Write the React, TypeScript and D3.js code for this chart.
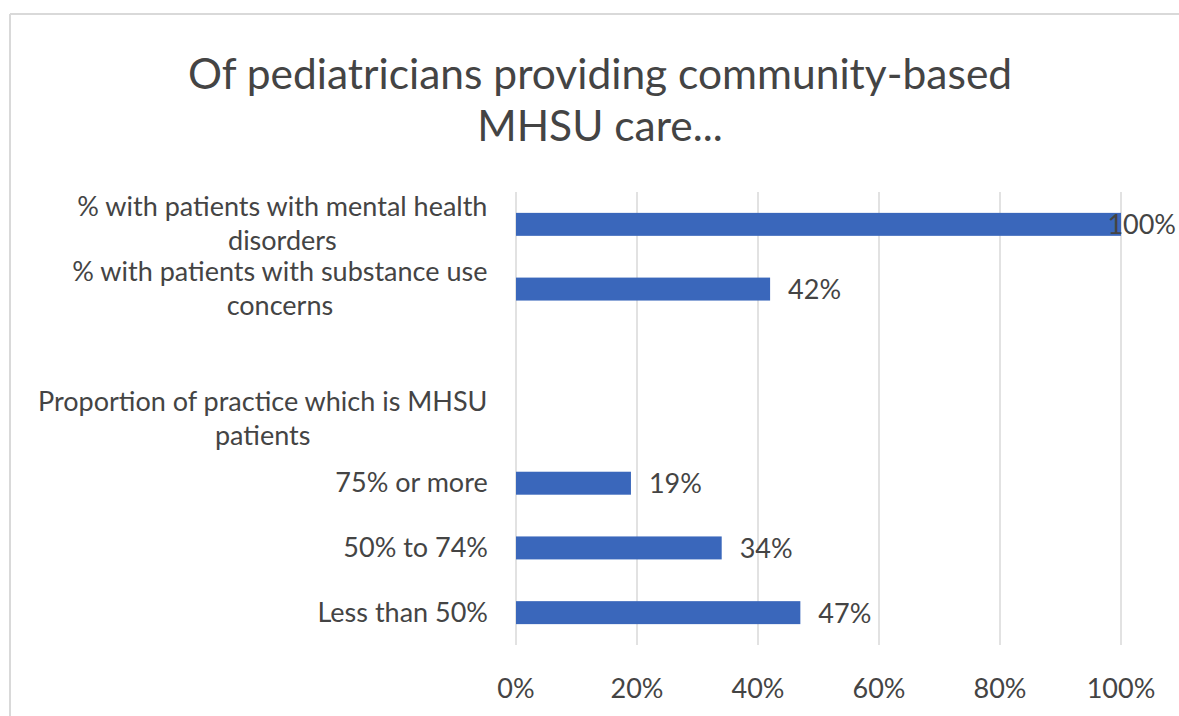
import React from "react";
import * as d3 from "d3";

const TITLE_LINES = ["Of pediatricians providing community-based", "MHSU care..."];
const CATEGORIES = [
  "% with patients with mental health\ndisorders",
  "% with patients with substance use\nconcerns",
  " ",
  "Proportion of practice which is MHSU\npatients",
  "75% or more",
  "50% to 74%",
  "Less than 50%",
];
const VALUES: (number | null)[] = [100, 42, null, null, 19, 34, 47];
const X_TICKS = [0, 20, 40, 60, 80, 100];

const W = 1179;
const H = 716;
const FONT = "Lato, 'Open Sans', sans-serif";
const TEXT = "#444444";
const BAR = "#3a67bb";

let ctx: CanvasRenderingContext2D | null = null;
function measure(text: string, size: number) {
  if (!ctx) ctx = document.createElement("canvas").getContext("2d");
  if (!ctx) return text.length * size * 0.5;
  ctx.font = `${size}px Lato`;
  return ctx.measureText(text).width;
}

export default function App() {
  const x = d3.scaleLinear().domain([0, 100]).range([516, 1121]);
  const y = d3
    .scaleBand<string>()
    .domain(CATEGORIES)
    .range([192, 645])
    .paddingInner(0.645)
    .paddingOuter(0.3225);
  const labelRight = 488;
  const labelSize = 27;
  const lineH = 34;

  return (
    <svg width={W} height={H} style={{ position: "absolute", left: 0, top: 0 }} fontFamily={FONT}>
      <rect x={0} y={0} width={W} height={H} fill="#fff" />
      <line x1={10} x2={W} y1={14} y2={14} stroke="#d9d9d9" strokeWidth={2} />
      <line x1={10} x2={10} y1={14} y2={H} stroke="#d9d9d9" strokeWidth={2} />
      {TITLE_LINES.map((t, i) => (
        <text key={t} x={600} y={89 + i * 52} textAnchor="middle" fontSize={42.5} fill={TEXT}>
          {t}
        </text>
      ))}
      {X_TICKS.map((t) => (
        <g key={t}>
          <line x1={x(t)} x2={x(t)} y1={192} y2={645} stroke="#d9d9d9" strokeWidth={1.5} />
          <text x={x(t)} y={698} textAnchor="middle" fontSize={labelSize} fill={TEXT}>
            {t}%
          </text>
        </g>
      ))}
      {CATEGORIES.map((c, i) => {
        const lines = c.split("\n");
        const maxW = Math.max(...lines.map((l) => measure(l, labelSize)));
        const cx = labelRight - maxW / 2;
        const cy = (y(c) ?? 0) + y.bandwidth() / 2;
        const y0 = cy - ((lines.length - 1) * lineH) / 2 + 9;
        const v = VALUES[i];
        const label = `${v}%`;
        const lw = measure(label, labelSize);
        return (
          <g key={i}>
            {lines.map((l, j) => (
              <text key={j} x={cx} y={y0 + j * lineH} textAnchor="middle" fontSize={labelSize} fill={TEXT}>
                {l}
              </text>
            ))}
            {v != null && (
              <>
                <rect x={x(0)} y={y(c)} width={x(v) - x(0)} height={y.bandwidth()} fill={BAR} />
                <text
                  x={Math.min(x(v) + 18, W - 3 - lw)}
                  y={cy + 10}
                  fontSize={labelSize}
                  fill={TEXT}
                >
                  {label}
                </text>
              </>
            )}
          </g>
        );
      })}
    </svg>
  );
}
